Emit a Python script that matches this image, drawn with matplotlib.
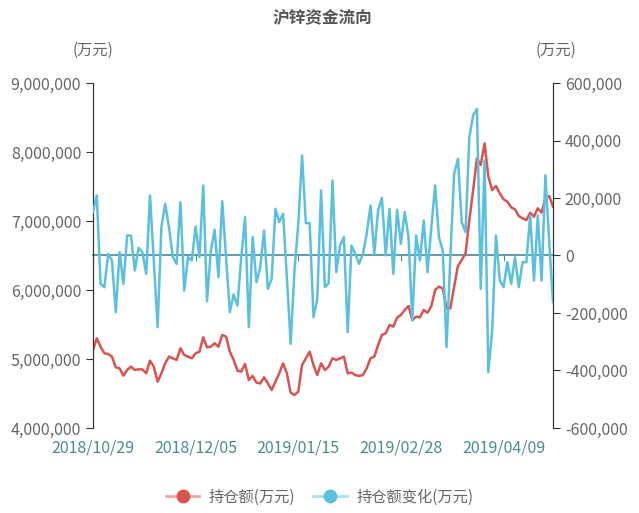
import numpy as np
import pandas as pd
import matplotlib
matplotlib.use("Agg")
import matplotlib.pyplot as plt
from matplotlib.lines import Line2D
from matplotlib.ticker import FuncFormatter

plt.rcParams['font.family'] = ['Noto Sans CJK SC', 'DejaVu Sans']

# 交易日 (剔除节假日)
holidays = ['2018-12-31', '2019-01-01', '2019-02-04', '2019-02-05', '2019-02-06',
            '2019-02-07', '2019-02-08', '2019-04-05']
dates = pd.bdate_range('2018-10-29', '2019-04-26', freq='C', holidays=holidays)
date_labels = [d.strftime('%Y/%m/%d') for d in dates]

# 持仓额(万元)
hold = [5130000, 5300000, 5179000, 5082000, 5072000, 5034000, 4879000, 4865000, 4758000, 4841000,
        4889000, 4841000, 4850000, 4850000, 4792000, 4976000, 4889000, 4671000, 4792000,
        4940000, 5034000, 5010000, 4986000, 5155000, 5058000, 5034000, 5010000, 5082000, 5106000,
        5314000, 5169000, 5179000, 5227000, 5179000, 5348000, 5324000, 5106000, 4986000, 4831000,
        4816000, 4928000,
        4696000, 4754000, 4657000, 4647000, 4734000, 4647000, 4551000, 4671000, 4792000, 4937000,
        4792000, 4512000, 4478000, 4527000, 4913000, 5010000, 5106000, 4913000, 4768000, 4937000,
        4841000, 4889000, 5010000, 4986000, 5010000, 5034000, 4792000, 4802000, 4768000, 4754000,
        4768000, 4865000, 5010000, 5034000, 5203000, 5348000, 5372000, 5493000, 5469000,
        5600000, 5638000, 5710000, 5768000, 5565000, 5614000, 5604000, 5710000, 5671000, 5768000,
        6000000, 6048000, 6024000, 5734000, 5734000, 6048000, 6348000, 6435000, 6531000, 7014000,
        7449000,
        7908000, 7812000, 8126000, 7643000, 7449000, 7507000, 7401000, 7314000, 7280000, 7198000,
        7169000, 7072000, 7039000, 7014000, 7121000, 7063000, 7184000, 7121000, 7343000, 7362000,
        7208000]

# 持仓额变化(万元)
change = [150700, 208700, -98500, -110100, 5800, -17400, -197100, 11600, -98500, 69600,
          69600, -52200, 26700, 11600, -63800, 208700, -17400, -249300, 98500, 179700,
          98500, -5800, -29000, 185500, -121700, -5800, -17400, 100900, -5800, 243500,
          -158800, 17400, 89300, -75400, 189000, -5800, -197100, -135600, -173900, -5800,
          133300, -249300, 63800, -92800, -40600, 87000, -115900, -81200, 162300, 115900,
          144900, -75400, -307200, -52200, 110100, 347800, 112500, 112500, -214500, -150700,
          226100, -110100, -96200, 260900, -58000, 34800, 63800, -266700, 34800, 5800,
          -29000, 5800, 75400, 173900, 5800, 156500, 200600, 0, 162300, -63800,
          158800, 40600, 150700, 63800, -226100, 69600, -17400, 121700, -58000, 98500,
          243500, 63800, 17400, -318800, -5800, 284100, 336200, 115900, 81200, 411600,
          487000, 510100, -115900, 330400, -405800, -260900, 69600, -87000, -110100, -23200,
          -98500, -5800, -110100, -23200, -23200, 139100, -87000, 139100, -87000, 278300,
          50000, -162300]

red = '#D9534F'
blue = '#5BC0DE'
teal = '#4A8A94'
grey = '#666666'

x = np.arange(len(dates))

fig = plt.figure(figsize=(6.39, 5.13), dpi=100)
ax = fig.add_axes([0.1455, 0.1657, 0.7199, 0.6725])
ax2 = ax.twinx()

ax.plot(x, hold, color=red, lw=1.8, zorder=3)
ax2.plot(x, change, color=blue, lw=1.8, zorder=3)

ax.set_xlim(0, len(x) - 1)
ax.set_ylim(4000000, 9000000)
ax.set_yticks(np.arange(4000000, 9000001, 1000000))
ax2.set_ylim(-600000, 600000)
ax2.set_yticks(np.arange(-600000, 600001, 200000))

fmt = FuncFormatter(lambda v, p: '{:,.0f}'.format(v))
ax.yaxis.set_major_formatter(fmt)
ax2.yaxis.set_major_formatter(fmt)

for a in (ax, ax2):
    a.spines['top'].set_visible(False)
    a.spines['left'].set_color('#333333')
    a.spines['right'].set_color('#333333')
    a.tick_params(axis='y', colors='#333333', labelcolor=grey, labelsize=11.5, length=5)
ax2.spines['bottom'].set_visible(False)

# x轴线在 0 处
tick_idx = x[::27]
ax.spines['bottom'].set_position(('data', 6500000))
ax.spines['bottom'].set_color(teal)
ax.spines['bottom'].set_linewidth(1.2)
ax.set_xticks(tick_idx)
ax.tick_params(axis='x', colors=teal, length=4, labelbottom=False)

sec = ax.secondary_xaxis(0)
sec.set_xticks(tick_idx, [date_labels[i] for i in tick_idx])
sec.tick_params(length=0, labelcolor=teal, labelsize=11.5, pad=8)
sec.spines['bottom'].set_visible(False)

fig.text(0.505, 1 - 17 / 513, '沪锌资金流向', ha='center', va='center',
         fontsize=12, fontweight='bold', color='#555555')
fig.text(93 / 639, 1 - 50 / 513, '(万元)', ha='center', va='center', fontsize=11, color=grey)
fig.text(556 / 639, 1 - 50 / 513, '(万元)', ha='center', va='center', fontsize=11, color=grey)

h1 = (Line2D([], [], color=red, lw=2, alpha=0.5), Line2D([], [], color=red, marker='o', ls='', ms=9))
h2 = (Line2D([], [], color=blue, lw=2, alpha=0.5), Line2D([], [], color=blue, marker='o', ls='', ms=9))
fig.legend([h1, h2], ['持仓额(万元)', '持仓额变化(万元)'], loc='center', bbox_to_anchor=(0.5, 1 - 497 / 513),
           ncol=2, frameon=False, fontsize=11, labelcolor=grey, handlelength=2.2,
           columnspacing=1.2, handletextpad=0.6)

fig.savefig('out.png', dpi=100)
